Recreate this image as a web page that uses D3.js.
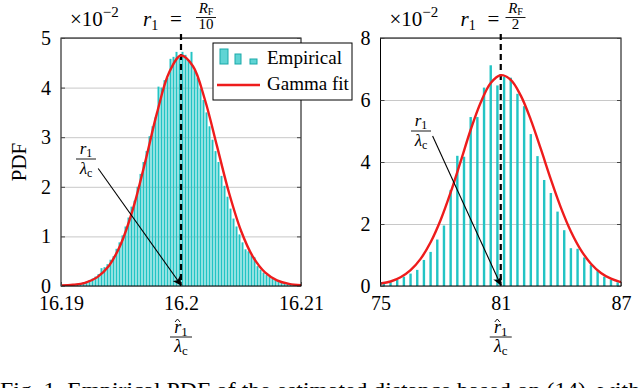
<!DOCTYPE html>
<meta charset="utf-8">
<script src="https://d3js.org/d3.v7.min.js"></script>
<style>
  body { margin: 0; background: #fff; }
  svg text { font-family: "Liberation Serif", "DejaVu Serif", serif !important; fill: #000; }
</style>
<div id="my_dataviz"></div>
<script>

// ---- left panel, r1 = R_F / 10 ----
var leftBinStart = 16.19, leftBinWidth = 0.00025;
var leftBars = [0.01, 0.015, 0.02, 0.025, 0.03, 0.045, 0.06, 0.075, 0.09, 0.12,
                0.15, 0.19, 0.24, 0.36, 0.38, 0.44, 0.53, 0.6, 0.75, 0.88,
                1.02, 1.2, 1.38, 1.6, 1.72, 2.0, 2.26, 2.5, 2.72, 3.02,
                3.22, 3.4, 4.02, 4.0, 4.15, 4.2, 4.58, 4.62, 4.72, 4.6,
                4.72, 4.66, 4.55, 4.72, 4.35, 4.2, 3.98, 3.75, 3.5, 3.22,
                2.95, 2.72, 2.5, 2.22, 2.02, 1.8, 1.56, 1.36, 1.2, 1.04,
                0.88, 0.74, 0.7, 0.62, 0.58, 0.4, 0.33, 0.27, 0.22, 0.18,
                0.15, 0.14, 0.12, 0.1, 0.08, 0.06, 0.05, 0.035, 0.025, 0.015];
var leftFitX = [16.190, 16.191, 16.192, 16.193, 16.194, 16.195, 16.196, 16.197, 16.198, 16.199, 16.200,
                16.201, 16.202, 16.203, 16.204, 16.205, 16.206, 16.207, 16.208, 16.209, 16.210];
var leftFitY = [0.01, 0.025, 0.065, 0.174, 0.41, 0.854, 1.555, 2.486, 3.49, 4.30, 4.647,
                4.43, 3.75, 2.82, 1.88, 1.115, 0.587, 0.274, 0.114, 0.042, 0.014];
var leftTicksX = [16.19, 16.2, 16.21];
var leftTickLabelsX = ["16.19", "16.2", "16.21"];
var leftTicksY = [0, 1, 2, 3, 4, 5];

// ---- right panel, r1 = R_F / 2 ----
var rightBinStart = 75, rightBinWidth = 1 / 3;
var rightBars = [0.08, 0.12, 0.2, 0.3, 0.4, 0.52, 0.84, 1.1, 1.5, 1.95,
                 3.1, 4.2, 4.17, 5.45, 5.45, 6.4, 7.12, 6.47, 6.75, 6.72,
                 6.2, 5.8, 4.9, 4.19, 3.42, 3.0, 2.4, 1.8, 1.22, 1.2,
                 0.92, 0.68, 0.48, 0.3, 0.2, 0.12];
var rightFitX = [75, 75.5, 76, 76.5, 77, 77.5, 78, 78.5, 79, 79.5, 80, 80.5, 81,
                 81.5, 82, 82.5, 83, 83.5, 84, 84.5, 85, 85.5, 86, 86.5, 87];
var rightFitY = [0.08, 0.145, 0.28, 0.51, 0.875, 1.41, 2.13, 3.02, 4.02, 5.04, 5.92, 6.55, 6.8,
                 6.65, 6.14, 5.36, 4.42, 3.44, 2.53, 1.76, 1.16, 0.72, 0.42, 0.235, 0.123];
var rightTicksX = [75, 81, 87];
var rightTickLabelsX = ["75", "81", "87"];
var rightTicksY = [0, 2, 4, 6, 8];

var barColor = "#22c4c4", fitColor = "#ee1c1c";

var svg = d3.select("#my_dataviz")
  .append("svg")
    .attr("width", 640)
    .attr("height", 388);

var defs = svg.append("defs");
defs.append("marker")
    .attr("id", "arrowHead")
    .attr("viewBox", "0 0 10 10")
    .attr("refX", 9).attr("refY", 5)
    .attr("markerWidth", 9).attr("markerHeight", 9)
    .attr("markerUnits", "userSpaceOnUse")
    .attr("orient", "auto")
  .append("path")
    .attr("d", "M0,0 L10,5 L0,10 L2.5,5 z")
    .attr("fill", "#000");

var panels = [
  { id: "L", x0: 61, x1: 301, y0: 38, y1: 286,
    xDomain: [16.19, 16.21], yMax: 5,
    bars: leftBars, binStart: leftBinStart, binWidth: leftBinWidth, barFrac: 0.66,
    fitX: leftFitX, fitY: leftFitY,
    ticksX: leftTicksX, labelsX: leftTickLabelsX, ticksY: leftTicksY,
    mark: 16.2, denom: "10",
    title: { r: 82, eq: 109, frac: 145 },
    note: { x: 16.1931, y: 2.37, tx: 86, ty: 159 } },
  { id: "R", x0: 380.5, x1: 621, y0: 38, y1: 286,
    xDomain: [75, 87], yMax: 8,
    bars: rightBars, binStart: rightBinStart, binWidth: rightBinWidth, barFrac: 0.36,
    fitX: rightFitX, fitY: rightFitY,
    ticksX: rightTicksX, labelsX: rightTickLabelsX, ticksY: rightTicksY,
    mark: 81, denom: "2",
    title: { r: 80, eq: 107, frac: 135 },
    note: { x: 77.6, y: 4.84, tx: 421, ty: 131 } }
];

function styleAxis(g) {
  g.attr("font-family", null);
  g.select(".domain").remove();
  g.selectAll("line").attr("stroke", "#444");
  g.selectAll("text").attr("font-size", 20);
}

panels.forEach(function(p) {
  var xScale = d3.scaleLinear().domain(p.xDomain).range([p.x0, p.x1]);
  var yScale = d3.scaleLinear().domain([0, p.yMax]).range([p.y1, p.y0]);
  var w = p.x1 - p.x0, h = p.y1 - p.y0;

  defs.append("clipPath").attr("id", "clip" + p.id)
    .append("rect").attr("x", p.x0).attr("y", p.y0 - 2).attr("width", w).attr("height", h + 2);

  // horizontal grid
  svg.append("g")
      .attr("transform", "translate(" + p.x0 + ",0)")
      .call(d3.axisLeft(yScale).tickValues(p.ticksY).tickSize(-w).tickFormat(""))
      .call(function(g) {
        g.select(".domain").remove();
        g.selectAll("line").attr("stroke", "#c8c8c8").attr("stroke-width", 1);
      });

  // bars
  svg.append("g").attr("clip-path", "url(#clip" + p.id + ")")
    .selectAll("rect")
    .data(p.bars)
    .enter()
    .append("rect")
      .attr("x", function(d, i) {
        var c = p.binStart + (i + 0.5) * p.binWidth;
        return xScale(c) - (xScale(p.binWidth) - xScale(0)) * p.barFrac / 2;
      })
      .attr("width", (xScale(p.binWidth) - xScale(0)) * p.barFrac)
      .attr("y", function(d) { return yScale(d); })
      .attr("height", function(d) { return yScale(0) - yScale(d); })
      .attr("fill", barColor);

  // dashed marker line
  svg.append("line")
      .attr("x1", xScale(p.mark)).attr("x2", xScale(p.mark))
      .attr("y1", p.y0 - 4).attr("y2", p.y1)
      .attr("stroke", "#000").attr("stroke-width", 2.2)
      .attr("stroke-dasharray", "6,4");

  // gamma fit
  var fit = p.fitX.map(function(x, i) { return [x, p.fitY[i]]; });
  svg.append("path")
      .datum(fit)
      .attr("clip-path", "url(#clip" + p.id + ")")
      .attr("fill", "none")
      .attr("stroke", fitColor)
      .attr("stroke-width", 2.4)
      .attr("d", d3.line()
        .x(function(d) { return xScale(d[0]); })
        .y(function(d) { return yScale(d[1]); })
        .curve(d3.curveCatmullRom));

  // frame
  svg.append("rect")
      .attr("x", p.x0).attr("y", p.y0).attr("width", w).attr("height", h)
      .attr("fill", "none").attr("stroke", "#000").attr("stroke-width", 1);

  // axes with tick labels
  svg.append("g")
      .attr("transform", "translate(0," + p.y1 + ")")
      .call(d3.axisBottom(xScale).tickValues(p.ticksX)
        .tickFormat(function(d, i) { return p.labelsX[i]; })
        .tickSize(-4).tickPadding(10))
      .call(styleAxis);
  svg.append("g")
      .attr("transform", "translate(" + p.x0 + ",0)")
      .call(d3.axisLeft(yScale).tickValues(p.ticksY).tickFormat(d3.format("d"))
        .tickSize(-4).tickPadding(10))
      .call(styleAxis);
  svg.append("g")
      .attr("transform", "translate(" + p.x1 + ",0)")
      .call(d3.axisRight(yScale).tickValues(p.ticksY).tickFormat("").tickSize(-4))
      .call(styleAxis);

  // annotation arrow r1 / lambda_c
  var n = p.note;
  svg.append("line")
      .attr("x1", xScale(n.x)).attr("y1", yScale(n.y))
      .attr("x2", xScale(p.mark)).attr("y2", yScale(0) - 1)
      .attr("stroke", "#000").attr("stroke-width", 1.1)
      .attr("marker-end", "url(#arrowHead)");
  var nt = svg.append("g").attr("transform", "translate(" + n.tx + "," + n.ty + ")");
  var num = nt.append("text").attr("text-anchor", "middle").attr("y", -5).attr("font-size", 17);
  num.append("tspan").attr("font-style", "italic").text("r");
  num.append("tspan").attr("font-size", 12).attr("dy", 3).text("1");
  nt.append("line").attr("x1", -10).attr("x2", 10).attr("stroke", "#000").attr("stroke-width", 0.9);
  var den = nt.append("text").attr("text-anchor", "middle").attr("y", 15).attr("font-size", 17);
  den.append("tspan").attr("font-style", "italic").text("λ");
  den.append("tspan").attr("font-size", 12).attr("dy", 3).text("c");

  // title: x10^-2  r1 = R_F / n
  var t = svg.append("text").attr("x", p.x0 + 9).attr("y", 26).attr("font-size", 21);
  t.append("tspan").text("×10");
  t.append("tspan").attr("font-size", 15).attr("dy", -9).text("−2");
  var tr = svg.append("text").attr("x", p.x0 + p.title.r).attr("y", 26).attr("font-size", 21);
  tr.append("tspan").attr("font-style", "italic").text("r");
  tr.append("tspan").attr("font-size", 14).attr("dy", 4).text("1");
  svg.append("text").attr("x", p.x0 + p.title.eq).attr("y", 26).attr("font-size", 21).text("=");
  var fx = p.x0 + p.title.frac;
  var fn = svg.append("text").attr("x", fx).attr("y", 13).attr("font-size", 15).attr("text-anchor", "middle");
  fn.append("tspan").attr("font-style", "italic").text("R");
  fn.append("tspan").attr("font-size", 10).attr("dy", 2).text("F");
  svg.append("line").attr("x1", fx - 10).attr("x2", fx + 10).attr("y1", 17.5).attr("y2", 17.5)
      .attr("stroke", "#000").attr("stroke-width", 0.9);
  svg.append("text").attr("x", fx).attr("y", 29).attr("font-size", 15)
      .attr("text-anchor", "middle").text(p.denom);

  // x label: r-hat_1 / lambda_c
  var cx = (p.x0 + p.x1) / 2;
  var xl = svg.append("g").attr("transform", "translate(" + cx + ",337)");
  var xn = xl.append("text").attr("text-anchor", "middle").attr("y", -4).attr("font-size", 18);
  xn.append("tspan").attr("font-style", "italic").text("r");
  xn.append("tspan").attr("font-size", 13).attr("dy", 3).text("1");
  xl.append("path").attr("d", "M-6,-15 L-3.5,-18 L-1,-15")
      .attr("fill", "none").attr("stroke", "#000").attr("stroke-width", 0.9);
  xl.append("line").attr("x1", -11).attr("x2", 11).attr("stroke", "#000").attr("stroke-width", 0.9);
  var xd = xl.append("text").attr("text-anchor", "middle").attr("y", 15).attr("font-size", 18);
  xd.append("tspan").attr("font-style", "italic").text("λ");
  xd.append("tspan").attr("font-size", 13).attr("dy", 3).text("c");
});

// y label
svg.append("text")
    .attr("transform", "translate(26,162) rotate(-90)")
    .attr("text-anchor", "middle")
    .attr("font-size", 21)
    .text("PDF");

// legend (left panel)
var lg = svg.append("g").attr("transform", "translate(213,43)");
lg.append("rect").attr("width", 139).attr("height", 57)
    .attr("fill", "#fff").attr("stroke", "#000").attr("stroke-width", 1);
var iconH = [15, 10, 5], iconX = [7, 22, 37], iconW = [8, 6, 7];
iconH.forEach(function(hh, i) {
  lg.append("rect").attr("x", iconX[i]).attr("y", 21 - hh).attr("width", iconW[i]).attr("height", hh)
    .attr("fill", "#5fd4d4").attr("stroke", "#1aa9a9").attr("stroke-width", 1);
});
lg.append("text").attr("x", 54).attr("y", 21).attr("font-size", 19).text("Empirical");
lg.append("line").attr("x1", 4).attr("x2", 47).attr("y1", 42).attr("y2", 42)
    .attr("stroke", fitColor).attr("stroke-width", 2.4);
lg.append("text").attr("x", 54).attr("y", 47).attr("font-size", 19).text("Gamma fit");

// caption (cut by the bottom edge)
svg.append("text")
    .attr("x", 0).attr("y", 397)
    .attr("font-size", 22)
    .attr("textLength", 640)
    .attr("lengthAdjust", "spacingAndGlyphs")
    .text("Fig. 1.  Empirical PDF of the estimated distance based on (14), with");

</script>
